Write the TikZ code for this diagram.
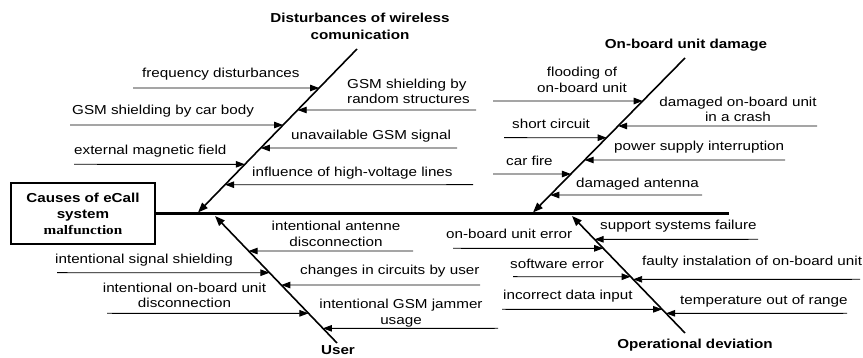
\documentclass[tikz,border=0pt]{standalone}
\usepackage{fontspec}
\setmainfont{Liberation Sans}[FakeStretch=1.17]
\newfontfamily\rmbold{Liberation Serif}[FakeStretch=1.17]
\usetikzlibrary{arrows.meta}

\begin{document}
\begin{tikzpicture}[x=1pt,y=-1pt,
  every node/.style={inner sep=0pt,font=\fontsize{13}{15.5}\selectfont},
  lefttext/.style={anchor=mid west},
  twoline/.style={align=center,anchor=center},
  title/.style={align=center,anchor=center,font=\bfseries\fontsize{13}{16.5}\selectfont},
  spine/.style={line width=2.6pt},
  bone/.style={line width=1.6pt,-{Triangle[length=10pt,width=7.5pt]}},
  twig/.style={line width=0.9pt,-{Triangle[length=9pt,width=6.5pt]}}]

\useasboundingbox (0,0) rectangle (863,358);

% effect box and spine
\node[draw,line width=1.8pt,minimum width=144pt,minimum height=61pt,align=center,
      font=\bfseries\fontsize{13}{16}\selectfont] (effect) at (83,213.5)
      {Causes of eCall\\system\\{\rmbold malfunction}};
\coordinate (head) at (729,213.5);
\draw[spine] (effect.east) -- (head);

% main bones
\coordinate (d1a) at (357,49);  \coordinate (d1b) at (198,212.5);
\coordinate (o1a) at (685,58);  \coordinate (o1b) at (533,212.5);
\coordinate (u1a) at (337,343); \coordinate (u1b) at (215,216);
\coordinate (p1a) at (685,333); \coordinate (p1b) at (572,216);
\draw[bone] (d1a) -- (d1b);
\draw[bone] (o1a) -- (o1b);
\draw[bone] (u1a) -- (u1b);
\draw[bone] (p1a) -- (p1b);

\node[title] (tD) at (360,26.5) {Disturbances of wireless\\comunication};
\node[title] (tO) at (686,45) {On-board unit damage};
\node[title] (tU) at (338,350) {User};
\node[title] (tP) at (695,345) {Operational deviation};

% --- Disturbances of wireless communication
\coordinate (dA) at (133,88);
\coordinate (dAt) at (intersection of d1a--d1b and 0,88--1,88);
\draw[twig] (dA) -- (dAt);
\node[lefttext] (lA) at (142,75) {frequency disturbances};

\coordinate (dB) at (476,110);
\coordinate (dBt) at (intersection of d1a--d1b and 0,110--1,110);
\draw[twig] (dB) -- (dBt);
\node[align=left,anchor=west] (lB) at (347,91.5) {GSM shielding by\\random structures};

\coordinate (dC) at (70,125);
\coordinate (dCt) at (intersection of d1a--d1b and 0,125--1,125);
\draw[twig] (dC) -- (dCt);
\node[lefttext] (lC) at (72,112) {GSM shielding by car body};

\coordinate (dD) at (457,148);
\coordinate (dDt) at (intersection of d1a--d1b and 0,148--1,148);
\draw[twig] (dD) -- (dDt);
\node[lefttext] (lD) at (291,137) {unavailable GSM signal};

\coordinate (dE) at (74,164.3);
\coordinate (dEt) at (intersection of d1a--d1b and 0,164.3--1,164.3);
\draw[twig] (dE) -- (dEt);
\node[lefttext] (lE) at (74,152) {external magnetic field};

\coordinate (dF) at (473,184.7);
\coordinate (dFt) at (intersection of d1a--d1b and 0,184.7--1,184.7);
\draw[twig] (dF) -- (dFt);
\node[lefttext] (lF) at (252,174) {influence of high-voltage lines};

% --- On-board unit damage
\coordinate (oA) at (493,101);
\coordinate (oAt) at (intersection of o1a--o1b and 0,101--1,101);
\draw[twig] (oA) -- (oAt);
\node[twoline] (mA) at (582,80) {flooding of\\on-board unit};

\coordinate (oB) at (817,126);
\coordinate (oBt) at (intersection of o1a--o1b and 0,126--1,126);
\draw[twig] (oB) -- (oBt);
\node[twoline] (mB) at (738,109.5) {damaged on-board unit\\in a crash};

\coordinate (oC) at (504,137.7);
\coordinate (oCt) at (intersection of o1a--o1b and 0,137.7--1,137.7);
\draw[twig] (oC) -- (oCt);
\node[lefttext] (mC) at (512,126) {short circuit};

\coordinate (oD) at (785,160);
\coordinate (oDt) at (intersection of o1a--o1b and 0,160--1,160);
\draw[twig] (oD) -- (oDt);
\node[lefttext] (mD) at (614,148) {power supply interruption};

\coordinate (oE) at (493,174);
\coordinate (oEt) at (intersection of o1a--o1b and 0,174--1,174);
\draw[twig] (oE) -- (oEt);
\node[lefttext] (mE) at (506,163) {car fire};

\coordinate (oF) at (702,195);
\coordinate (oFt) at (intersection of o1a--o1b and 0,195--1,195);
\draw[twig] (oF) -- (oFt);
\node[lefttext] (mF) at (576,185) {damaged antenna};

% --- User
\coordinate (uA) at (413,251);
\coordinate (uAt) at (intersection of u1a--u1b and 0,251--1,251);
\draw[twig] (uA) -- (uAt);
\node[twoline] (nA) at (336,233.7) {intentional antenne\\disconnection};

\coordinate (uB) at (57,272.7);
\coordinate (uBt) at (intersection of u1a--u1b and 0,272.7--1,272.7);
\draw[twig] (uB) -- (uBt);
\node[lefttext] (nB) at (55,260.7) {intentional signal shielding};

\coordinate (uC) at (480,285);
\coordinate (uCt) at (intersection of u1a--u1b and 0,285--1,285);
\draw[twig] (uC) -- (uCt);
\node[lefttext] (nC) at (300,271.7) {changes in circuits by user};

\coordinate (uD) at (107,313.3);
\coordinate (uDt) at (intersection of u1a--u1b and 0,313.3--1,313.3);
\draw[twig] (uD) -- (uDt);
\node[twoline] (nD) at (184.5,295.3) {intentional on-board unit\\disconnection};

\coordinate (uE) at (498,328.3);
\coordinate (uEt) at (intersection of u1a--u1b and 0,328.3--1,328.3);
\draw[twig] (uE) -- (uEt);
\node[twoline] (nE) at (401,313) {intentional GSM jammer\\usage};

% --- Operational deviation
\coordinate (pA) at (758,239.3);
\coordinate (pAt) at (intersection of p1a--p1b and 0,239.3--1,239.3);
\draw[twig] (pA) -- (pAt);
\node[lefttext] (qA) at (600,227.3) {support systems failure};

\coordinate (pB) at (453,248.3);
\coordinate (pBt) at (intersection of p1a--p1b and 0,248.3--1,248.3);
\draw[twig] (pB) -- (pBt);
\node[lefttext] (qB) at (446,235.7) {on-board unit error};

\coordinate (pC) at (513,276.7);
\coordinate (pCt) at (intersection of p1a--p1b and 0,276.7--1,276.7);
\draw[twig] (pC) -- (pCt);
\node[lefttext] (qC) at (510,265.7) {software error};

\coordinate (pD) at (860,279.3);
\coordinate (pDt) at (intersection of p1a--p1b and 0,279.3--1,279.3);
\draw[twig] (pD) -- (pDt);
\node[lefttext] (qD) at (642,262.7) {faulty instalation of on-board unit};

\coordinate (pE) at (502,309.3);
\coordinate (pEt) at (intersection of p1a--p1b and 0,309.3--1,309.3);
\draw[twig] (pE) -- (pEt);
\node[lefttext] (qE) at (503,296.7) {incorrect data input};

\coordinate (pF) at (847,313.3);
\coordinate (pFt) at (intersection of p1a--p1b and 0,313.3--1,313.3);
\draw[twig] (pF) -- (pFt);
\node[lefttext] (qF) at (680,301.7) {temperature out of range};
\end{tikzpicture}
\end{document}
